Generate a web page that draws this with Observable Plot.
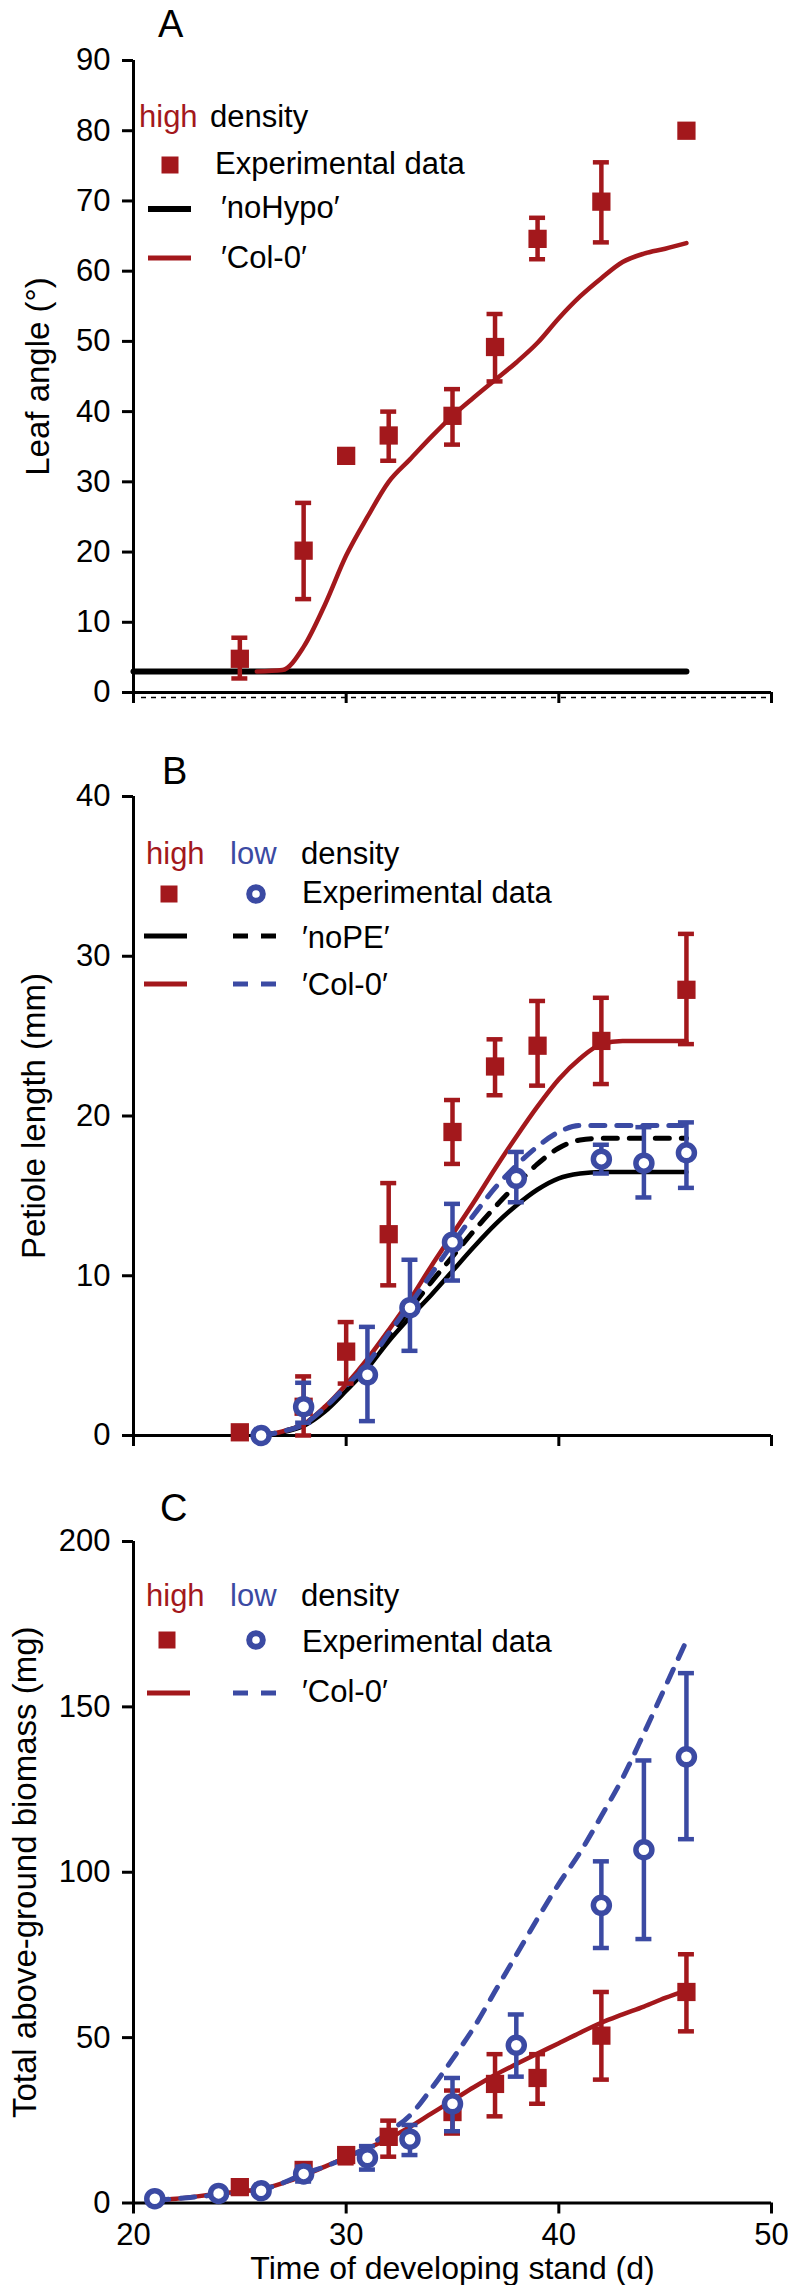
<!DOCTYPE html>
<html><head><meta charset="utf-8">
<script src="https://cdn.jsdelivr.net/npm/d3@7"></script>
<script src="https://cdn.jsdelivr.net/npm/@observablehq/plot@0.6"></script>
<style>
body{margin:0;background:#fff;}
#chart{width:788px;}
#chart svg{display:block;}
</style></head><body><div id="chart"></div>
<script>
// ---------- colours / fonts ----------
const RED = "#a3181c", BLUE = "#3b4aa3", BLACK = "#000";
const FONT = "'Liberation Sans', Arial, Helvetica, sans-serif";

// ---------- shared ----------
const xTicks = [20, 30, 40, 50];
const xLabel = "Time of developing stand (d)";

// ---------- Panel A: leaf angle ----------
const aTicks = [0, 10, 20, 30, 40, 50, 60, 70, 80, 90];
const aHighDay = [25, 28, 30, 32, 35, 37, 39, 42, 46];
const aHighMean = [4.8, 20.2, 33.7, 36.6, 39.4, 49.2, 64.6, 69.9, 80];
const aHighLo = [2.0, 13.3, null, 33.0, 35.3, 44.3, 61.7, 64.1, null];
const aHighHi = [7.8, 27.0, null, 40.0, 43.2, 53.9, 67.6, 75.5, null];
const aNoHypoDay = [20, 46];
const aNoHypo = [3, 3];
const aColDay = [25.8, 27, 28, 29, 30, 31, 32, 33, 34, 35, 36, 37, 38, 39, 40, 41, 42, 43, 44, 45, 46];
const aCol = [3, 3.2, 6.5, 12.5, 19.5, 25, 30, 33.2, 36.4, 39.4, 42, 44.5, 47, 49.8, 53.3, 56.4, 59, 61.3, 62.5, 63.2, 64];

// ---------- Panel B: petiole length ----------
const bTicks = [0, 10, 20, 30, 40];
const bHighDay = [25, 28, 30, 32, 35, 37, 39, 42, 46];
const bHighMean = [0.2, 1.8, 5.25, 12.6, 19.0, 23.1, 24.4, 24.7, 27.9];
const bHighLo = [null, 0, 3.25, 9.4, 17.0, 21.3, 21.9, 22.0, 24.5];
const bHighHi = [null, 3.7, 7.1, 15.8, 21.0, 24.8, 27.2, 27.4, 31.4];
const bLowDay = [26, 28, 31, 33, 35, 38, 42, 44, 46];
const bLowMean = [0, 1.8, 3.8, 8.0, 12.1, 16.1, 17.3, 17.05, 17.7];
const bLowLo = [null, 0.8, 0.9, 5.3, 9.7, 14.6, 16.4, 14.9, 15.5];
const bLowHi = [null, 3.3, 6.8, 11.0, 14.5, 17.75, 18.2, 19.3, 19.6];
const bModelDay = [26, 27, 28, 29, 30, 31, 32, 33, 34, 35, 36, 37, 38, 39, 40, 41, 42, 43, 44, 45, 46];
const bNoPEHigh = [0, 0.2, 0.6, 1.5, 2.8, 4.2, 5.9, 7.4, 8.8, 10.3, 11.8, 13.2, 14.4, 15.4, 16.1, 16.4, 16.5, 16.5, 16.5, 16.5, 16.5];
const bNoPELow = [0, 0.25, 0.7, 1.7, 3.0, 4.4, 6.2, 7.9, 9.6, 11.2, 12.8, 14.3, 15.7, 17.0, 18.0, 18.5, 18.6, 18.6, 18.6, 18.6, 18.6];
const bColHigh = [0, 0.25, 0.7, 1.8, 3.2, 4.8, 6.6, 8.5, 10.6, 12.6, 14.6, 16.7, 18.7, 20.6, 22.3, 23.6, 24.5, 24.7, 24.7, 24.7, 24.7];
const bColLow = [0, 0.25, 0.7, 1.75, 3.1, 4.5, 6.4, 8.2, 10.1, 12.0, 13.8, 15.5, 16.9, 18.1, 19.0, 19.4, 19.4, 19.4, 19.4, 19.4, 19.4];

// ---------- Panel C: total above-ground biomass ----------
const cTicks = [0, 50, 100, 150, 200];
const cHighDay = [25, 28, 30, 32, 35, 37, 39, 42, 46];
const cHighMean = [4.8, 10, 14.5, 20, 27.5, 36, 37.8, 50.6, 63.8];
const cHighLo = [null, 8, 12, 14, 21, 26.2, 30, 37.3, 51.9];
const cHighHi = [null, 12, 16, 24.9, 34, 45, 45, 63.8, 75.2];
const cLowDay = [21, 24, 26, 28, 31, 33, 35, 38, 42, 44, 46];
const cLowMean = [1.3, 2.9, 3.7, 8.8, 13.7, 19.3, 30, 47.7, 90, 106.8, 134.9];
const cLowLo = [null, null, null, 6.5, 10.1, 14.5, 21.7, 38.2, 77.1, 79.8, 110.0];
const cLowHi = [null, null, null, 11, 17.2, 23.6, 37.8, 57.0, 103.3, 133.8, 160.2];
const cModelDay = [21, 22, 23, 24, 25, 26, 27, 28, 29, 30, 31, 32, 33, 34, 35, 36, 37, 38, 39, 40, 41, 42, 43, 44, 45, 46];
const cColHigh = [0.8, 1.3, 2, 2.8, 3.5, 4.2, 6, 8.3, 11, 13.8, 16.5, 19.5, 23, 27, 31, 35, 38.7, 42, 45.2, 48.3, 51.5, 54.5, 57, 59.4, 62, 64.3];
const cColLow = [0.8, 1.3, 1.9, 2.5, 3.2, 4, 6, 8.8, 11, 13.7, 17, 21.5, 26.5, 34.5, 43.5, 53, 64, 75, 86, 96.5, 106, 117, 128.5, 142, 156, 170];

// ---------- helpers ----------
const pts = (xs, ys, lo, hi) => xs.map((x, i) => ({x, y: ys[i], lo: lo ? lo[i] : null, hi: hi ? hi[i] : null}));
const series = (xs, ys) => xs.map((x, i) => ({x, y: ys[i]}));

function errorBars(rows, color) {
  const r = rows.filter(d => d.lo != null && d.hi != null);
  return [
    Plot.ruleX(r, {x: "x", y1: "lo", y2: "hi", stroke: color, strokeWidth: 4.5}),
    Plot.ruleY(r, {x1: "x", x2: "x", y: "hi", stroke: color, strokeWidth: 4.5, insetLeft: -8, insetRight: -8}),
    Plot.ruleY(r, {x1: "x", x2: "x", y: "lo", stroke: color, strokeWidth: 4.5, insetLeft: -8, insetRight: -8})
  ];
}
const squares = rows => Plot.dot(rows, {x: "x", y: "y", symbol: "square", r: 10.3, fill: RED, stroke: "none"});
const circles = rows => Plot.dot(rows, {x: "x", y: "y", r: 8, fill: "white", stroke: BLUE, strokeWidth: 5.5});
const line = (rows, color, dashed, sw) => Plot.line(rows, {x: "x", y: "y", stroke: color, strokeWidth: sw || 4.5, curve: "monotone-x", strokeDasharray: dashed ? "14,12" : null});

function panel(cfg) {
  const svg = Plot.plot({
    width: 788, height: cfg.height,
    marginTop: cfg.mt, marginBottom: cfg.mb, marginLeft: 133, marginRight: 17,
    style: {fontFamily: FONT, fontSize: "31px", color: "#000", background: "white", overflow: "visible"},
    x: {domain: [20, 50]},
    y: {domain: cfg.yDomain},
    marks: [
      Plot.ruleX([20], {stroke: BLACK, strokeWidth: 3}),
      Plot.ruleY([0], {stroke: BLACK, strokeWidth: 3}),
      ...(cfg.dottedBase ? [Plot.ruleY([0], {stroke: BLACK, strokeWidth: 1.6, dy: 5, strokeDasharray: "5,5", insetLeft: 8})] : []),
      Plot.axisY({ticks: cfg.yTicks, tickSize: 11, tickPadding: 12, strokeWidth: 3, fontSize: 31, label: null, tickFormat: d => String(d)}),
      Plot.axisX({ticks: xTicks, tickSize: 11, tickPadding: 9, strokeWidth: 3, fontSize: 31, label: null, tickFormat: cfg.xLabels ? d => String(d) : () => ""}),
      Plot.text([cfg.yLabel], {frameAnchor: "left", rotate: -90, dx: cfg.labelX - 133, textAnchor: "middle", lineAnchor: "middle", fontSize: 33}),
      ...(cfg.xLabels ? [Plot.text([xLabel], {frameAnchor: "bottom", dy: 66, textAnchor: "middle", lineAnchor: "middle", fontSize: 32})] : []),
      ...cfg.marks
    ]
  });
  const s = d3.select(svg);
  // panel letter
  s.append("text").attr("x", cfg.letter[1]).attr("y", cfg.letter[2]).attr("text-anchor", "start")
    .attr("font-size", 38).attr("font-family", FONT).attr("fill", BLACK).text(cfg.letter[0]);
  // legend
  const g = s.append("g").attr("font-family", FONT).attr("font-size", 31).attr("text-anchor", "start");
  cfg.legend(g);
  document.getElementById("chart").appendChild(svg);
}

const legText = (g, x, y, parts) => {
  const t = g.append("text").attr("x", x).attr("y", y).attr("text-anchor", "start");
  parts.forEach(([str, col, px]) => {
    const ts = t.append("tspan").attr("fill", col).text(str);
    if (px != null) ts.attr("x", px);
  });
};
const legSquare = (g, cx, cy) => g.append("rect").attr("x", cx - 8.5).attr("y", cy - 8.5).attr("width", 17).attr("height", 17).attr("fill", RED);
const legCircle = (g, cx, cy) => g.append("circle").attr("cx", cx).attr("cy", cy).attr("r", 6.8).attr("fill", "white").attr("stroke", BLUE).attr("stroke-width", 6);
const legLine = (g, x1, x2, y, col, dashed, sw) => g.append("line").attr("x1", x1).attr("x2", x2).attr("y1", y).attr("y2", y)
  .attr("stroke", col).attr("stroke-width", sw || 5).attr("stroke-dasharray", dashed ? "15,13" : null);

// ---------- Panel A ----------
const aHigh = pts(aHighDay, aHighMean, aHighLo, aHighHi);
panel({
  height: 720, mt: 60, mb: 28, yDomain: [0, 90], yTicks: aTicks, yLabel: "Leaf angle (°)", labelX: 38,
  letter: ["A", 158, 36.5], xLabels: false, dottedBase: true,
  marks: [
    line(series(aNoHypoDay, aNoHypo), BLACK, false, 6),
    line(series(aColDay, aCol), RED, false, 4.5),
    ...errorBars(aHigh, RED),
    squares(aHigh)
  ],
  legend: g => {
    legText(g, 139, 127, [["high", RED], ["density", BLACK, 210]]);
    legSquare(g, 170, 165);
    legText(g, 215, 174, [["Experimental data", BLACK]]);
    legLine(g, 148, 191, 209, BLACK, false, 6);
    legText(g, 221, 218, [["′noHypo′", BLACK]]);
    legLine(g, 148, 191, 258, RED, false, 5);
    legText(g, 221, 268, [["′Col-0′", BLACK]]);
  }
});

// ---------- Panel B ----------
const bHigh = pts(bHighDay, bHighMean, bHighLo, bHighHi);
const bLow = pts(bLowDay, bLowMean, bLowLo, bLowHi);
panel({
  height: 750, mt: 76, mb: 35, yDomain: [0, 40], yTicks: bTicks, yLabel: "Petiole length (mm)", labelX: 34,
  letter: ["B", 162, 64], xLabels: false,
  marks: [
    line(series(bModelDay, bNoPEHigh), BLACK, false, 4.5),
    line(series(bModelDay, bNoPELow), BLACK, true, 5),
    line(series(bModelDay, bColHigh), RED, false, 4.5),
    line(series(bModelDay, bColLow), BLUE, true, 5),
    ...errorBars(bHigh, RED),
    squares(bHigh),
    ...errorBars(bLow, BLUE),
    circles(bLow)
  ],
  legend: g => {
    legText(g, 146, 144, [["high", RED], ["low", BLUE, 230], ["density", BLACK, 301]]);
    legSquare(g, 169, 174);
    legCircle(g, 256, 174);
    legText(g, 302, 182.5, [["Experimental data", BLACK]]);
    legLine(g, 144, 187, 216, BLACK, false, 5);
    legLine(g, 233, 277, 216, BLACK, true, 5);
    legText(g, 302, 228, [["′noPE′", BLACK]]);
    legLine(g, 144, 187, 264, RED, false, 5);
    legLine(g, 233, 277, 264, BLUE, true, 5);
    legText(g, 302, 275, [["′Col-0′", BLACK]]);
  }
});

// ---------- Panel C ----------
const cHigh = pts(cHighDay, cHighMean, cHighLo, cHighHi);
const cLow = pts(cLowDay, cLowMean, cLowLo, cLowHi);
panel({
  height: 815, mt: 71, mb: 82.5, yDomain: [0, 200], yTicks: cTicks, yLabel: "Total above-ground biomass (mg)", labelX: 25,
  letter: ["C", 160, 50.5], xLabels: true,
  marks: [
    line(series(cModelDay, cColHigh), RED, false, 4.5),
    line(series(cModelDay, cColLow), BLUE, true, 5),
    ...errorBars(cHigh, RED),
    squares(cHigh),
    ...errorBars(cLow, BLUE),
    circles(cLow)
  ],
  legend: g => {
    legText(g, 146, 136, [["high", RED], ["low", BLUE, 230], ["density", BLACK, 301]]);
    legSquare(g, 167, 170);
    legCircle(g, 256, 170);
    legText(g, 302, 181.5, [["Experimental data", BLACK]]);
    legLine(g, 147, 190, 223, RED, false, 5);
    legLine(g, 233, 277, 223, BLUE, true, 5);
    legText(g, 302, 231.5, [["′Col-0′", BLACK]]);
  }
});
</script></body></html>
